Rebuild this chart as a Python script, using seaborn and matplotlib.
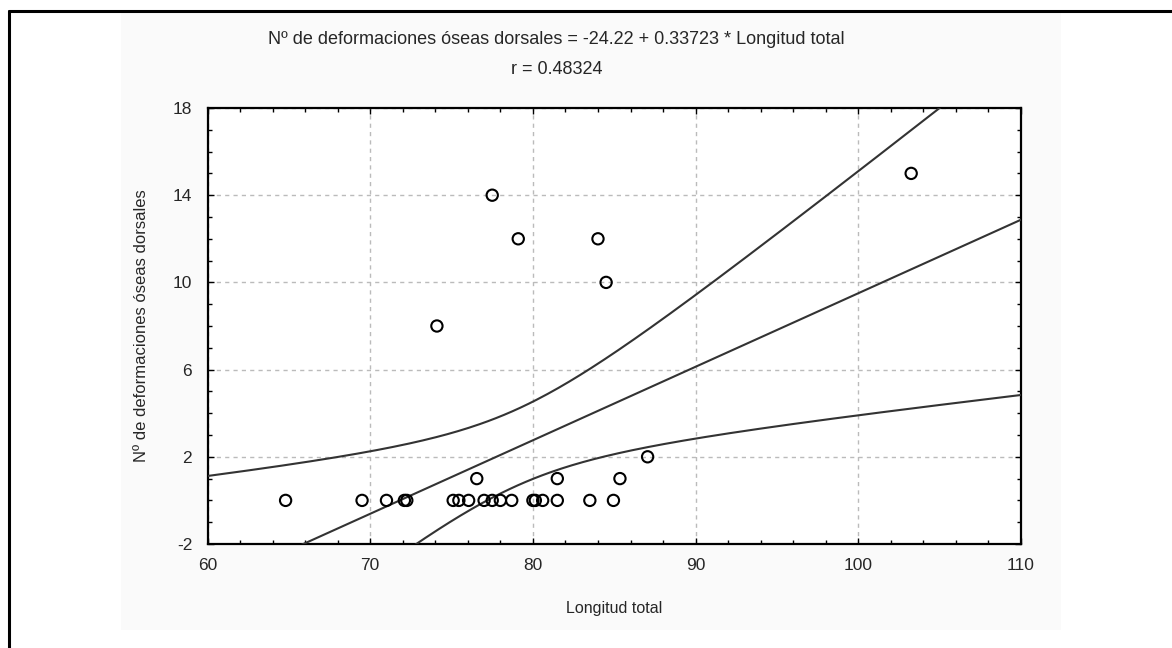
import numpy as np
import pandas as pd
import matplotlib
matplotlib.use("Agg")
import matplotlib.pyplot as plt
from matplotlib.ticker import MultipleLocator
import seaborn as sns

# ---- data ----
longitud = [64.8, 69.5, 71.0, 72.1, 72.25, 75.1, 75.45, 76.05, 77.0, 77.5, 78.0, 78.7,
            80.0, 80.15, 80.6, 81.5, 83.5, 84.95,
            76.55, 81.5, 85.35,
            87.05,
            74.1, 77.5, 79.1, 84.0, 84.5, 103.25]
deformaciones = [0] * 18 + [1, 1, 1] + [2] + [8, 14, 12, 12, 10, 15]
intercept = -24.22
slope = 0.33723
r_value = 0.48324
t_crit = 2.056  # 95 %, df = n - 2
x_ticks = [60, 70, 80, 90, 100, 110]
y_ticks = [-2, 2, 6, 10, 14, 18]

sns.set_theme(style="white")
plt.rcParams['font.family'] = ['Liberation Sans', 'DejaVu Sans']
plt.rcParams['axes.unicode_minus'] = False

df = pd.DataFrame({"x": longitud, "y": deformaciones})

# regression line and 95 % confidence band for the mean
xs = np.linspace(x_ticks[0], x_ticks[-1], 300)
x_arr = np.asarray(longitud, float)
y_arr = np.asarray(deformaciones, float)
n = len(x_arr)
resid = y_arr - (intercept + slope * x_arr)
s = np.sqrt(np.sum(resid ** 2) / (n - 2))
sxx = np.sum((x_arr - x_arr.mean()) ** 2)
fit = intercept + slope * xs
half = t_crit * s * np.sqrt(1.0 / n + (xs - x_arr.mean()) ** 2 / sxx)
lines = pd.DataFrame({"x": np.concatenate([xs, xs, xs]),
                      "y": np.concatenate([fit, fit + half, fit - half]),
                      "k": ["fit"] * len(xs) + ["up"] * len(xs) + ["lo"] * len(xs)})

fig = plt.figure(figsize=(11.72, 6.48), dpi=100)
fig.patch.set_facecolor("white")

# light panel behind the plot
panel = plt.Rectangle((121 / 1172, 1 - 630 / 648), 940 / 1172, 617 / 648,
                      transform=fig.transFigure, facecolor="#FAFAFA",
                      edgecolor="none", zorder=-5)
fig.patches.append(panel)
# outer frame (top and left edges visible)
fig.add_artist(plt.Line2D([9 / 1172, 1], [1 - 11 / 648, 1 - 11 / 648],
                          transform=fig.transFigure, color="black", lw=2.2, zorder=-4))
fig.add_artist(plt.Line2D([9 / 1172, 9 / 1172], [0, 1 - 11 / 648],
                          transform=fig.transFigure, color="black", lw=2.2, zorder=-4))

ax = fig.add_axes([207.5 / 1172, 1 - 544 / 648, (1021 - 207.5) / 1172, (544 - 108) / 648])
ax.set_zorder(5)
ax.set_facecolor("white")

for key in ["fit", "up", "lo"]:
    sns.lineplot(data=lines[lines["k"] == key], x="x", y="y", ax=ax,
                 color="#333333", lw=1.5, sort=False, zorder=3, legend=False)

sns.scatterplot(data=df, x="x", y="y", ax=ax, s=66, marker="o",
                facecolor="none", edgecolor="black", linewidth=1.5,
                zorder=4, legend=False)

ax.set_xlim(x_ticks[0], x_ticks[-1])
ax.set_ylim(y_ticks[0], y_ticks[-1])
ax.set_xticks(x_ticks)
ax.set_yticks(y_ticks)
ax.xaxis.set_minor_locator(MultipleLocator(2))
ax.yaxis.set_minor_locator(MultipleLocator(1))
ax.tick_params(which="both", direction="in", top=True, right=True,
               bottom=True, left=True, color="black")
ax.tick_params(which="major", length=4, width=1.0, labelsize=12.5)
ax.tick_params(axis="x", which="major", pad=10)
ax.tick_params(axis="y", which="major", pad=11)
ax.tick_params(which="minor", length=3, width=1.0)
ax.grid(True, which="major", color="#BBBBBB", linestyle=(0, (3, 3)), lw=1.0)
ax.set_axisbelow(True)
for sp in ax.spines.values():
    sp.set_color("black")
    sp.set_linewidth(1.6)
    sp.set_visible(True)

ax.set_xlabel("Longitud total", fontsize=11.5, labelpad=20)
ax.set_ylabel("Nº de deformaciones óseas dorsales", fontsize=12, labelpad=17)

fig.text(556 / 1172, 1 - 39 / 648,
         f"Nº de deformaciones óseas dorsales = {intercept:.2f} + {slope:.5f} * Longitud total",
         ha="center", va="center", fontsize=13)
fig.text(557 / 1172, 1 - 70 / 648, f"r = {r_value:.5f}",
         ha="center", va="center", fontsize=13)

fig.savefig("out.png", dpi=100)
